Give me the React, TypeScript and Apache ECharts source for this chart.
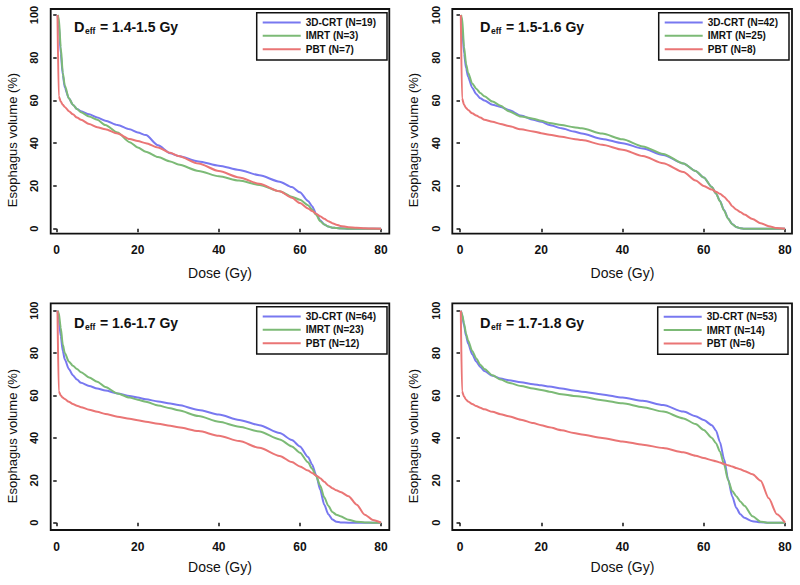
import React, { useEffect, useRef } from 'react';
import * as echarts from 'echarts';

const FONT = '"Liberation Sans", Arial, Helvetica, sans-serif';

// Dose grid (Gy) shared by all curves
const dose = [0.2, 0.5, 1, 1.5, 2, 3, 4, 5, 6, 8, 10, 12, 15, 18, 20, 22, 25, 28, 30, 35, 40, 45, 50, 55, 58, 60, 62, 63, 64, 65, 66, 67, 68, 69, 70, 72, 74, 76, 78, 80];

// Panel 1: Deff = 1.4-1.5 Gy
const p1Crt = [100, 96, 82, 72, 66, 61, 58, 56, 55, 53.5, 52, 50.5, 48.5, 46.5, 45, 43.8, 39, 35.3, 34, 31.5, 29.5, 27.5, 25, 22, 19.5, 17, 13, 10.5, 7, 4, 2, 1, 0.5, 0.3, 0.2, 0, 0, 0, 0, 0];
const p1Imrt = [100, 99, 85, 73, 67, 61, 58, 56, 54.5, 52.5, 51, 48.5, 45, 40.5, 38, 36, 33.5, 31.5, 30, 27, 24.5, 22.5, 20.5, 17.5, 15, 13.5, 11, 9, 6.5, 3.5, 2, 1, 0.5, 0.3, 0.1, 0, 0, 0, 0, 0];
const p1Pbt = [100, 62, 59.5, 58, 57, 55, 53.5, 52, 51, 49, 47.5, 46.5, 44.5, 42, 41, 40, 38, 35.5, 34, 30.5, 27, 24, 21, 17.5, 14.5, 12, 9.5, 8.3, 7, 5.8, 4.6, 3.5, 2.6, 1.9, 1.3, 0.7, 0.4, 0.2, 0.1, 0];

// Panel 2: Deff = 1.5-1.6 Gy
const p2Crt = [100, 95, 82, 75, 71, 66, 63, 61, 60, 58, 57, 55.5, 53, 51, 50, 48.5, 47, 45.5, 44.5, 42, 40, 37.5, 34.5, 30.5, 27, 24, 19.5, 16.5, 13, 8.7, 4.8, 2.2, 0.8, 0.2, 0, 0, 0, 0, 0, 0];
const p2Imrt = [100, 99, 85, 77, 73, 68, 65.5, 63.5, 62, 59.5, 57.5, 55, 52.5, 51.5, 50.5, 49.5, 48.5, 47.5, 47, 44.5, 41.8, 38.5, 35, 30.5, 27, 24, 19.5, 16.5, 12.8, 8.5, 4.6, 2.1, 0.8, 0.2, 0, 0, 0, 0, 0, 0];
const p2Pbt = [100, 61, 58, 56.5, 55.5, 54, 53, 52, 51, 50, 49, 48, 46.5, 45.5, 44.7, 44, 43, 42, 41.5, 39.3, 37, 34, 30.6, 26.5, 22.5, 20, 18.3, 17.3, 16.3, 15, 13, 10.5, 9, 7.8, 6.6, 4.5, 2.6, 1.2, 0.3, 0];

// Panel 3: Deff = 1.6-1.7 Gy
const p3Crt = [100, 96, 88, 81, 77, 72.5, 69.5, 67.5, 66, 64.5, 63.3, 62.3, 61, 59.8, 59, 58.2, 57.2, 56.2, 55.5, 53.2, 51, 48.5, 46, 42.3, 39, 36, 31, 27.5, 22.5, 15.5, 8.5, 4, 1.5, 0.5, 0.1, 0, 0, 0, 0, 0];
const p3Imrt = [100, 99, 92, 84, 80, 76, 74, 72.5, 71, 68.5, 66.5, 64, 61, 59, 58, 57, 55.3, 54, 53, 50.3, 47.6, 45.3, 43, 39.3, 36, 33, 28.5, 25.5, 22, 17.5, 12, 8, 5, 3.8, 3, 1.4, 0.5, 0.1, 0, 0];
const p3Pbt = [100, 62, 60, 59, 58.3, 57, 56, 55.2, 54.5, 53.3, 52.3, 51.3, 50, 49, 48.3, 47.6, 46.7, 45.7, 45, 43.2, 41, 38.5, 35.3, 31.5, 28.6, 26.5, 24.6, 23.5, 22.3, 21, 19.3, 17.6, 16.3, 15.3, 14.5, 12.5, 8.5, 3.8, 1.3, 0];

// Panel 4: Deff = 1.7-1.8 Gy
const p4Crt = [100, 98, 93, 88, 84.5, 79.5, 76, 73.5, 71.5, 69.3, 68, 67.2, 66.2, 65.3, 64.8, 64.2, 63.3, 62.4, 61.8, 60.5, 59, 57.5, 55.5, 52.4, 50.2, 48.4, 46, 43.5, 38, 30, 20.5, 12.5, 7, 4, 2.3, 0.7, 0.2, 0, 0, 0];
const p4Imrt = [100, 98.5, 94, 89, 86, 81, 77.5, 74.5, 72.5, 69.5, 67.5, 66, 64.5, 63.3, 62.6, 61.8, 60.6, 59.8, 59.4, 57.8, 56.3, 54.5, 52.4, 49.2, 46.5, 43.7, 40, 37.5, 33.5, 27.5, 20, 15, 12.5, 10, 8, 3, 0.5, 0, 0, 0];
const p4Pbt = [100, 62, 59.5, 58, 57.2, 56, 55, 54.2, 53.5, 52.3, 51.2, 50.2, 48.6, 47, 46, 45, 43.6, 42.3, 41.6, 40, 38.3, 36.8, 35.2, 33.2, 31.6, 30.5, 29.5, 29, 28.4, 27.7, 27.1, 26.5, 25.8, 25.2, 24.4, 22.8, 19.8, 11.5, 4, 0];

const titles = ['1.4-1.5', '1.5-1.6', '1.6-1.7', '1.7-1.8'];
const nCrt = [19, 42, 64, 53];
const nImrt = [3, 25, 23, 14];
const nPbt = [7, 8, 12, 6];
const crtCurves = [p1Crt, p2Crt, p3Crt, p4Crt];
const imrtCurves = [p1Imrt, p2Imrt, p3Imrt, p4Imrt];
const pbtCurves = [p1Pbt, p2Pbt, p3Pbt, p4Pbt];

const xTitle = 'Dose (Gy)';
const yTitle = 'Esophagus volume (%)';

const COLORS = { crt: '#7878f0', imrt: '#7cba76', pbt: '#ea7575' };

// layout (pixels)
const layout = [
  { gl: 56.7, gt: 15, gw: 324.3, gh: 213.7, fx: 50.7, fy: 9, fw: 338.6, fh: 224.7, lr: 413, lt: 12.7, tx: 74, ty: 27, ytx: 12, yty: 140, xtx: 220, xty: 273 },
  { gl: 460, gt: 15, gw: 325, gh: 213.7, fx: 452.3, fy: 9, fw: 339.7, fh: 224.7, lr: 11, lt: 12.7, tx: 480, ty: 27, ytx: 413, yty: 140, xtx: 622.5, xty: 273 },
  { gl: 56.7, gt: 310.7, gw: 324.3, gh: 212, fx: 50.7, fy: 303.3, fw: 338.6, fh: 226.7, lr: 413, lt: 306.7, tx: 74, ty: 323.3, ytx: 12, yty: 436, xtx: 220, xty: 566.5 },
  { gl: 460, gt: 310.7, gw: 325, gh: 212, fx: 452.3, fy: 303.3, fw: 339.7, fh: 226.7, lr: 12, lt: 307, tx: 480, ty: 323.3, ytx: 413, yty: 436, xtx: 622.5, xty: 566.5 },
];

function buildOption() {
  const grid: any[] = [];
  const xAxis: any[] = [];
  const yAxis: any[] = [];
  const series: any[] = [];
  const legend: any[] = [];
  const graphic: any[] = [];

  layout.forEach((L, i) => {
    grid.push({ left: L.gl, top: L.gt, width: L.gw, height: L.gh, containLabel: false });
    xAxis.push({
      type: 'value', gridIndex: i, min: 0, max: 80, interval: 20,
      offset: L.fy + L.fh - (L.gt + L.gh),
      axisLine: { show: false },
      axisTick: { show: true, length: 3.5, lineStyle: { color: '#111', width: 1.5 } },
      splitLine: { show: false },
      axisLabel: { show: true, margin: 10.5, fontSize: 12, fontWeight: 'bold', color: '#111', fontFamily: FONT, showMinLabel: true, showMaxLabel: true },
    });
    yAxis.push({
      type: 'value', gridIndex: i, min: 0, max: 100, interval: 20,
      offset: L.gl - L.fx,
      axisLine: { show: false },
      axisTick: { show: true, length: 3.5, lineStyle: { color: '#111', width: 1.5 } },
      splitLine: { show: false },
      axisLabel: { show: true, rotate: 90, margin: 11, fontSize: 11, fontWeight: 'bold', color: '#111', fontFamily: FONT, showMinLabel: true, showMaxLabel: true },
    });
    const names = [`3D-CRT (N=${nCrt[i]})`, `IMRT (N=${nImrt[i]})`, `PBT (N=${nPbt[i]})`];
    const curves = [crtCurves[i], imrtCurves[i], pbtCurves[i]];
    const cols = [COLORS.crt, COLORS.imrt, COLORS.pbt];
    names.forEach((nm, k) => {
      series.push({
        type: 'line', name: nm, xAxisIndex: i, yAxisIndex: i,
        data: dose.map((d, j) => [d, curves[k][j]]),
        showSymbol: false, symbol: 'none', smooth: 0.25, smoothMonotone: 'x', clip: false,
        lineStyle: { color: cols[k], width: 2 }, itemStyle: { color: cols[k] },
      });
    });
    legend.push({
      data: names, orient: 'vertical', right: L.lr, top: L.lt,
      icon: 'rect', itemWidth: 38, itemHeight: 2, itemGap: 0,
      padding: [3, 11, 4, 6], borderColor: '#111', borderWidth: 1.5,
      selectedMode: false,
      textStyle: { fontSize: 10, fontWeight: 'bold', color: '#111', fontFamily: FONT, lineHeight: 13.4 },
    });
    graphic.push({
      type: 'rect', silent: true, z: 10,
      shape: { x: L.fx, y: L.fy, width: L.fw, height: L.fh },
      style: { fill: 'none', stroke: '#111', lineWidth: 1.8 },
    });
    graphic.push({
      type: 'text', x: L.tx, y: L.ty, z: 11,
      style: { text: 'D', font: `bold 14.5px ${FONT}`, fill: '#111', textAlign: 'left', textVerticalAlign: 'middle', align: 'left', verticalAlign: 'middle' },
    });
    graphic.push({
      type: 'text', x: L.tx + 11, y: L.ty + 4, z: 11,
      style: { text: 'eff', font: `bold 8.5px ${FONT}`, fill: '#111', textAlign: 'left', textVerticalAlign: 'middle', align: 'left', verticalAlign: 'middle' },
    });
    graphic.push({
      type: 'text', x: L.tx + 22, y: L.ty, z: 11,
      style: { text: ` = ${titles[i]} Gy`, font: `bold 14px ${FONT}`, fill: '#111', textAlign: 'left', textVerticalAlign: 'middle', align: 'left', verticalAlign: 'middle' },
    });
    graphic.push({
      type: 'text', x: L.xtx, y: L.xty, z: 11,
      style: { text: xTitle, font: `14px ${FONT}`, fill: '#111', textAlign: 'center', textVerticalAlign: 'middle', align: 'center', verticalAlign: 'middle' },
    });
    graphic.push({
      type: 'text', x: L.ytx, y: L.yty, rotation: Math.PI / 2, z: 11,
      style: { text: yTitle, font: `13px ${FONT}`, fill: '#111', textAlign: 'center', textVerticalAlign: 'middle', align: 'center', verticalAlign: 'middle' },
    });
  });

  return { animation: false, backgroundColor: '#ffffff', grid, xAxis, yAxis, series, legend, graphic };
}

export default function App() {
  const ref = useRef<HTMLDivElement>(null);
  useEffect(() => {
    if (!ref.current) return;
    const chart = echarts.init(ref.current, undefined, { renderer: 'svg' });
    chart.setOption(buildOption() as any);
    return () => chart.dispose();
  }, []);
  return <div ref={ref} style={{ position: 'absolute', left: 0, top: 0, width: 800, height: 585 }} />;
}
